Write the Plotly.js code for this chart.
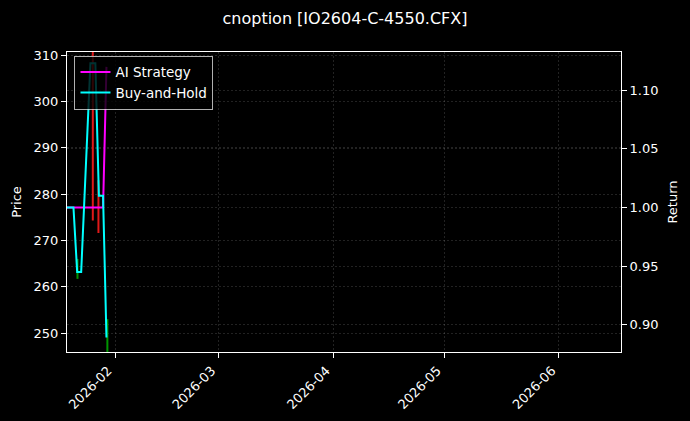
<!DOCTYPE html>
<html>
<head>
<meta charset="utf-8">
<script src="https://cdn.plot.ly/plotly-3.0.1.min.js"></script>
<style>
  html, body { margin: 0; padding: 0; background: #000; }
  #chart { width: 690px; height: 421px; }
</style>
</head>
<body>
<div id="chart"></div>
<script>
// returns (right axis)
var retDates = ['2026-01-19 00:00', '2026-01-20 18:00', '2026-01-21 18:00', '2026-01-22 20:00', '2026-01-25 08:00',
                '2026-01-26 16:00', '2026-01-27 15:00', '2026-01-28 18:00', '2026-01-29 16:00'];
var holdReturn = [1.000, 1.000, 0.945, 0.945, 1.123, 1.123, 1.010, 1.010, 0.889];
var aiReturn   = [1.000, 1.000, 1.000, 1.000, 1.000, 1.000, 1.000, 1.000, 1.120];

// candles (left axis, price)
var candleDates = ['2026-01-21 20:00', '2026-01-25 23:30', '2026-01-27 12:00', '2026-01-29 22:00'];
var candleHigh  = [266.0, 313.0, 283.0, 253.0];
var candleLow   = [261.7, 274.3, 271.6, 244.0];
var candleUp    = [true, false, false, true];

var xRange = ['2026-01-19 00:00', '2026-06-17 19:00'];
var priceRange = [245.9, 310.7];
var returnRange = [0.8766, 1.1327];

function wicks(up) {
  var x = [], y = [];
  candleDates.forEach(function (d, i) {
    if (candleUp[i] !== up) return;
    x.push(d, d, null);
    y.push(candleLow[i], candleHigh[i], null);
  });
  return {x: x, y: y};
}

var greenW = wicks(true), redW = wicks(false);

var upCandles = {
  x: greenW.x, y: greenW.y, type: 'scatter', mode: 'lines',
  line: {color: 'rgb(0,150,0)', width: 2}, showlegend: false, hoverinfo: 'skip', yaxis: 'y'
};
var downCandles = {
  x: redW.x, y: redW.y, type: 'scatter', mode: 'lines',
  line: {color: 'rgb(225,25,25)', width: 2}, showlegend: false, hoverinfo: 'skip', yaxis: 'y'
};

var aiLine = {
  x: retDates, y: aiReturn, type: 'scatter', mode: 'lines', name: 'AI Strategy',
  line: {color: '#ff00ff', width: 2}, yaxis: 'y2'
};
var holdLine = {
  x: retDates, y: holdReturn, type: 'scatter', mode: 'lines', name: 'Buy-and-Hold',
  line: {color: '#00ffff', width: 2}, yaxis: 'y2'
};

var font = {family: 'DejaVu Sans, sans-serif', size: 13, color: '#ffffff'};
var grid = {showgrid: true, gridcolor: 'rgba(255,255,255,0.22)', gridwidth: 0.6, griddash: '2px,2px'};

var layout = {
  width: 690, height: 421,
  paper_bgcolor: '#000', plot_bgcolor: '#000',
  font: font,
  margin: {l: 66.5, r: 69.3, t: 51.7, b: 69.3},
  title: {text: 'cnoption [IO2604-C-4550.CFX]', font: {family: font.family, size: 16, color: '#fff'},
          x: 0.5, xref: 'container', y: 0.957, yref: 'container', yanchor: 'middle'},
  showlegend: true,
  legend: {x: 0.0135, y: 0.988, xanchor: 'left', yanchor: 'top',
           bgcolor: 'rgba(0,0,0,0.8)', bordercolor: 'rgba(220,220,220,0.8)', borderwidth: 1,
           font: {family: font.family, size: 13.5, color: '#fff'}, tracegroupgap: 0},
  xaxis: Object.assign({
    type: 'date', range: xRange, tickformat: '%Y-%m', dtick: 'M1', tick0: '2026-02-01',
    tickangle: -45, ticks: 'outside', ticklen: 5, tickcolor: '#fff', ticklabelshift: -7,
    showline: true, linecolor: '#fff', linewidth: 1, mirror: true, zeroline: false
  }, grid),
  yaxis: Object.assign({
    title: {text: 'Price', font: {family: font.family, size: 13, color: '#fff'}, standoff: 9},
    range: priceRange, dtick: 10, tick0: 250, ticks: 'outside', ticklen: 5, tickcolor: '#fff',
    showline: true, linecolor: '#fff', linewidth: 1, zeroline: false
  }, grid),
  yaxis2: Object.assign({
    title: {text: 'Return', font: {family: font.family, size: 13, color: '#fff'}, standoff: 10},
    overlaying: 'y', side: 'right', range: returnRange, dtick: 0.05, tick0: 0.9, tickformat: '.2f',
    ticks: 'outside', ticklen: 5, tickcolor: '#fff',
    showline: true, linecolor: '#fff', linewidth: 1, zeroline: false
  }, grid)
};

Plotly.newPlot('chart', [upCandles, downCandles, aiLine, holdLine], layout, {displayModeBar: false, staticPlot: true});
</script>
</body>
</html>
